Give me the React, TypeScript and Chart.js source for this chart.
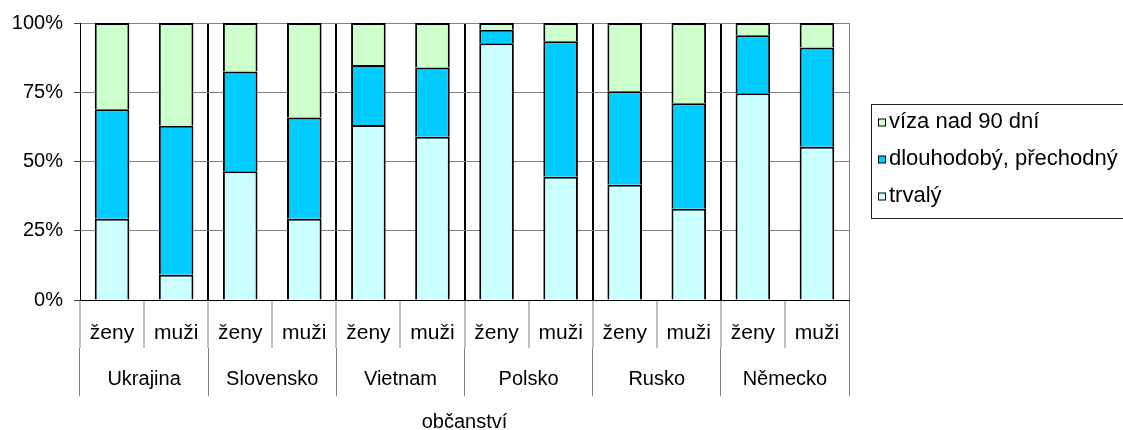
import React, { useEffect, useRef } from 'react';
import { Chart, registerables } from 'chart.js';

Chart.register(...registerables);

const FONT = "'Liberation Sans', Arial, Helvetica, sans-serif";

const categories = ['ženy', 'muži', 'ženy', 'muži', 'ženy', 'muži', 'ženy', 'muži', 'ženy', 'muži', 'ženy', 'muži'];
const countries = ['Ukrajina', 'Slovensko', 'Vietnam', 'Polsko', 'Rusko', 'Německo'];
const axisTitle = 'občanství';

const trvaly = [29.3, 9.1, 46.5, 29.3, 63.2, 58.9, 92.7, 44.5, 41.6, 32.9, 74.6, 55.3];
const dlouhodoby = [39.6, 53.8, 36.0, 36.6, 21.6, 25.0, 4.9, 48.9, 33.8, 38.1, 21.0, 35.9];
const viza = [31.1, 37.1, 17.5, 34.1, 15.2, 16.1, 2.4, 6.6, 24.6, 29.0, 4.4, 8.8];

const seriesLabels = ['trvalý', 'dlouhodobý, přechodný', 'víza nad 90 dní'];
const seriesColors = ['#CCFFFF', '#00CCFF', '#CCFFCC'];

const yTicks = [0, 25, 50, 75, 100];

const legendPlugin = {
  id: 'sideLegend',
  afterDraw(chart: any) {
    const { ctx } = chart;
    ctx.save();
    ctx.strokeStyle = '#222';
    ctx.lineWidth = 1;
    ctx.strokeRect(871.5, 104.5, 300, 114);
    const list = chart.data.datasets.slice().reverse();
    ctx.font = `22px ${FONT}`;
    ctx.textBaseline = 'alphabetic';
    ctx.textAlign = 'left';
    list.forEach((ds: any, i: number) => {
      const base = 127.5 + i * 37;
      ctx.fillStyle = ds.backgroundColor;
      ctx.fillRect(878.5, base - 8.5, 7, 7);
      ctx.strokeStyle = '#000';
      ctx.strokeRect(878.5, base - 8.5, 7, 7);
      ctx.fillStyle = '#000';
      ctx.fillText(ds.label, 889, base);
    });
    ctx.restore();
  },
};

export default function App() {
  const ref = useRef<HTMLCanvasElement>(null);

  useEffect(() => {
    document.body.style.margin = '0';
    const canvas = ref.current!;
    const seriesData = [trvaly, dlouhodoby, viza];
    const chart = new Chart(canvas, {
      type: 'bar',
      data: {
        labels: categories,
        datasets: seriesData.map((d, i) => ({
          label: seriesLabels[i],
          data: d,
          backgroundColor: seriesColors[i],
          borderColor: '#000',
          borderWidth: 2,
          borderSkipped: 'start',
          barPercentage: 0.54,
          categoryPercentage: 1,
          xAxisID: 'x',
          yAxisID: 'y',
        })),
      },
      plugins: [legendPlugin],
      options: {
        responsive: false,
        animation: false,
        devicePixelRatio: 1,
        layout: { padding: { top: 22, right: 274, left: 0, bottom: 0 } },
        plugins: {
          legend: { display: false },
          tooltip: { enabled: false },
        },
        scales: {
          x: {
            type: 'category',
            position: 'bottom',
            stacked: true,
            weight: 0,
            offset: true,
            grid: {
              offset: true,
              drawOnChartArea: true,
              drawTicks: true,
              tickLength: 48,
              tickColor: '#808080',
              tickWidth: 1,
              color: (c: any) => {
                if (c.index === undefined) return '#808080';
                if (c.index > 0 && c.index % 2 === 0) return '#000';
                return 'rgba(0,0,0,0)';
              },
              lineWidth: (c: any) => (c.index === undefined ? 1 : 2),
            },
            border: { display: true, color: '#000', width: 1, z: 1 },
            ticks: {
              autoSkip: false,
              maxRotation: 0,
              minRotation: 0,
              padding: -27,
              color: '#000',
              font: { family: FONT, size: 21 },
            },
            afterFit: (s: any) => {
              s.height = 48;
            },
          },
          x2: {
            type: 'category',
            position: 'bottom',
            labels: countries,
            weight: 1,
            offset: true,
            grid: {
              offset: true,
              drawOnChartArea: false,
              drawTicks: true,
              tickLength: 48,
              color: '#808080',
              tickColor: '#808080',
              tickWidth: 1,
            },
            border: { display: false },
            ticks: {
              autoSkip: false,
              maxRotation: 0,
              minRotation: 0,
              padding: -29,
              color: '#000',
              font: { family: FONT, size: 20 },
            },
            title: {
              display: true,
              text: axisTitle,
              color: '#000',
              font: { family: FONT, size: 20, lineHeight: 0.8 },
              padding: { top: 0, bottom: 0 },
            },
            afterFit: (s: any) => {
              s.height = 82;
            },
          },
          y: {
            type: 'linear',
            stacked: true,
            min: 0,
            max: 100,
            position: 'left',
            grid: {
              color: '#808080',
              lineWidth: 1,
              drawTicks: true,
              tickLength: 6,
              tickColor: '#404040',
            },
            border: { display: true, color: '#000', width: 1, z: 1 },
            ticks: {
              padding: 11,
              color: '#000',
              font: { family: FONT, size: 20 },
              callback: (v: any) => `${v}%`,
            },
            afterBuildTicks: (s: any) => {
              s.ticks = yTicks.map((v) => ({ value: v }));
            },
            afterFit: (s: any) => {
              s.width = 80;
            },
          },
        },
      },
    } as any);
    return () => chart.destroy();
  }, []);

  return (
    <div style={{ width: 1123, height: 430 }}>
      <canvas ref={ref} width={1123} height={430} style={{ display: 'block' }} />
    </div>
  );
}
